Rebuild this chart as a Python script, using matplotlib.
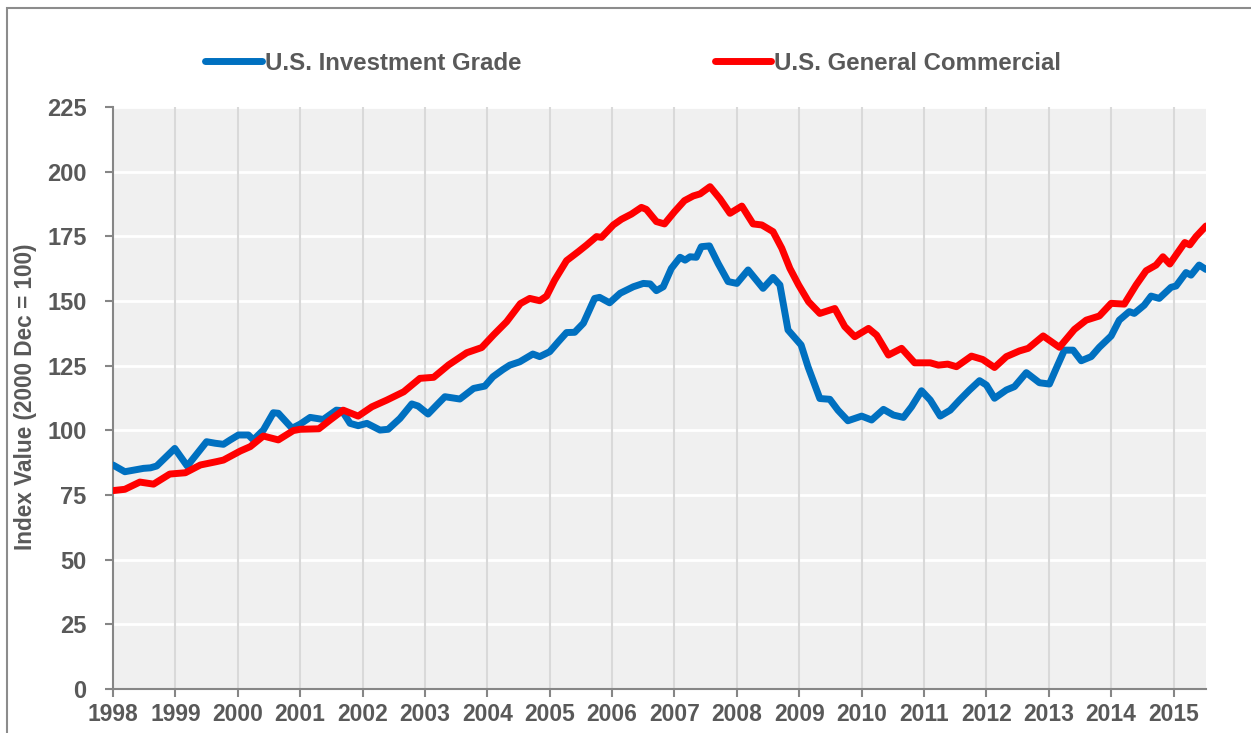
import matplotlib
matplotlib.use("Agg")
import matplotlib.pyplot as plt
from matplotlib.patches import Rectangle

plt.rcParams['font.family'] = ['Liberation Sans', 'DejaVu Sans']

# ---- data (decimal years, index values) ----
ig_years = [1998.00, 1998.19, 1998.49, 1998.60, 1998.70, 1998.99, 1999.19, 1999.50, 1999.64, 1999.77,
            1999.88, 2000.01, 2000.17, 2000.25, 2000.41, 2000.57, 2000.65, 2000.87, 2001.00, 2001.16,
            2001.37, 2001.58, 2001.67, 2001.80, 2001.93, 2002.07, 2002.28, 2002.41, 2002.60, 2002.79,
            2002.89, 2003.05, 2003.19, 2003.32, 2003.56, 2003.78, 2003.96, 2004.09, 2004.25, 2004.36,
            2004.52, 2004.73, 2004.84, 2005.00, 2005.14, 2005.27, 2005.40, 2005.54, 2005.72, 2005.80,
            2005.96, 2006.13, 2006.34, 2006.50, 2006.61, 2006.71, 2006.82, 2006.95, 2007.09, 2007.17,
            2007.25, 2007.35, 2007.43, 2007.56, 2007.70, 2007.86, 2008.00, 2008.18, 2008.42, 2008.58,
            2008.69, 2008.82, 2009.03, 2009.14, 2009.33, 2009.49, 2009.62, 2009.78, 2010.00, 2010.16,
            2010.35, 2010.51, 2010.67, 2010.80, 2010.96, 2011.10, 2011.26, 2011.42, 2011.57, 2011.73,
            2011.89, 2012.00, 2012.13, 2012.32, 2012.45, 2012.64, 2012.85, 2013.01, 2013.12, 2013.25,
            2013.39, 2013.52, 2013.68, 2013.81, 2014.00, 2014.13, 2014.29, 2014.37, 2014.53, 2014.64,
            2014.77, 2014.96, 2015.04, 2015.20, 2015.28, 2015.41, 2015.52]
ig_values = [86.6, 84.0, 85.3, 85.5, 86.2, 93.0, 86.2, 95.6, 95.0, 94.6,
             96.3, 98.2, 98.2, 96.3, 100.1, 106.8, 106.6, 100.8, 102.4, 105.0,
             104.2, 107.8, 107.6, 102.7, 101.8, 102.7, 100.1, 100.4, 104.6, 110.2,
             109.4, 106.3, 109.8, 113.0, 112.1, 116.2, 117.1, 120.7, 123.5, 125.2,
             126.5, 129.5, 128.5, 130.4, 134.3, 137.8, 137.9, 141.4, 151.0, 151.4,
             149.3, 153.0, 155.5, 156.8, 156.6, 154.0, 155.5, 162.6, 166.9, 165.8,
             167.1, 166.9, 171.0, 171.3, 164.5, 157.5, 156.8, 162.0, 154.9, 159.1,
             156.2, 138.8, 133.0, 124.6, 112.3, 112.0, 107.8, 103.7, 105.5, 104.0,
             108.1, 105.9, 105.0, 109.1, 115.3, 111.7, 105.5, 107.8, 111.7, 115.6,
             119.2, 117.5, 112.4, 115.6, 116.9, 122.3, 118.4, 117.9, 124.0, 131.0,
             131.0, 126.9, 128.5, 132.1, 136.5, 142.6, 145.9, 145.2, 148.4, 151.9,
             151.0, 155.3, 155.8, 161.0, 160.0, 163.9, 162.2]

gc_years = [1998.00, 1998.19, 1998.43, 1998.65, 1998.91, 1999.16, 1999.40, 1999.66, 1999.77, 2000.04,
            2000.20, 2000.41, 2000.65, 2000.89, 2001.00, 2001.30, 2001.48, 2001.69, 2001.93, 2002.15,
            2002.39, 2002.66, 2002.92, 2003.14, 2003.38, 2003.67, 2003.91, 2004.10, 2004.31, 2004.53,
            2004.68, 2004.84, 2004.95, 2005.08, 2005.27, 2005.46, 2005.59, 2005.75, 2005.83, 2006.02,
            2006.15, 2006.31, 2006.47, 2006.55, 2006.71, 2006.84, 2007.00, 2007.16, 2007.30, 2007.41,
            2007.57, 2007.73, 2007.89, 2008.08, 2008.26, 2008.40, 2008.58, 2008.72, 2008.85, 2008.99,
            2009.15, 2009.33, 2009.57, 2009.73, 2009.89, 2010.11, 2010.24, 2010.43, 2010.64, 2010.85,
            2011.10, 2011.23, 2011.38, 2011.52, 2011.76, 2011.94, 2012.13, 2012.32, 2012.53, 2012.67,
            2012.91, 2013.17, 2013.41, 2013.60, 2013.81, 2014.00, 2014.21, 2014.40, 2014.56, 2014.72,
            2014.83, 2014.94, 2015.04, 2015.18, 2015.26, 2015.36, 2015.52]
gc_values = [76.7, 77.2, 80.0, 79.2, 83.1, 83.6, 86.6, 87.9, 88.5, 92.0,
             93.7, 97.8, 96.3, 99.9, 100.4, 100.6, 104.0, 107.8, 105.5, 109.1,
             111.7, 114.9, 120.1, 120.5, 125.3, 130.0, 132.0, 136.9, 142.0, 149.0,
             151.0, 150.1, 151.9, 158.1, 165.6, 169.1, 171.6, 174.9, 174.6, 179.4,
             181.6, 183.6, 186.2, 185.4, 180.7, 179.8, 184.5, 188.8, 190.6, 191.4,
             194.2, 189.5, 183.9, 186.7, 179.8, 179.4, 176.8, 170.4, 162.6, 156.2,
             149.7, 145.2, 147.1, 140.1, 136.2, 139.4, 136.8, 129.1, 131.7, 126.1,
             126.1, 125.2, 125.6, 124.6, 128.7, 127.4, 124.3, 128.5, 130.7, 131.7,
             136.5, 132.1, 139.0, 142.6, 144.2, 149.1, 148.8, 156.2, 161.7, 163.9,
             167.1, 164.3, 167.8, 172.6, 171.7, 174.9, 179.0]

year_ticks = list(range(1998, 2016))
y_ticks = [0, 25, 50, 75, 100, 125, 150, 175, 200, 225]
series_names = ['U.S. Investment Grade', 'U.S. General Commercial']

BLUE = '#0070C0'
RED = '#FF0000'
TXT = '#595959'
AXC = '#868686'

W, H = 1251, 733
fig = plt.figure(figsize=(W / 100, H / 100), dpi=100)
fig.patch.set_facecolor('white')

# outer chart-area border (partially visible)
fig.add_artist(Rectangle((7 / W, -0.1), 1.2, (733 - 8) / H + 0.1, transform=fig.transFigure,
                         fill=False, edgecolor='#8C8C8C', linewidth=1.5))

ax = fig.add_axes([113 / W, (H - 689) / H, (1206 - 113) / W, (689 - 107) / H])
ax.set_facecolor('#F0F0F0')

ax.set_xlim(1998.0, 2015.52)
ax.set_ylim(0, 225)

ax.set_yticks(y_ticks)
ax.set_xticks(year_ticks)
ax.set_xticklabels([str(y) for y in year_ticks])

for s in ['top', 'right']:
    ax.spines[s].set_visible(False)
for s in ['left', 'bottom']:
    ax.spines[s].set_color(AXC)
    ax.spines[s].set_linewidth(1.5)

ax.tick_params(axis='both', direction='out', length=6, width=1.5, color=AXC,
               labelcolor=TXT, labelsize=16.5)
ax.tick_params(axis='y', pad=13, labelsize=17)
ax.tick_params(axis='x', pad=4)
for lab in ax.get_xticklabels() + ax.get_yticklabels():
    lab.set_fontweight('bold')

# grid: white horizontal, light gray vertical
for v in y_ticks[1:]:
    ax.axhline(v, color='white', linewidth=2, zorder=1)
for yr in year_ticks[1:]:
    ax.axvline(yr, color='#D9D9D9', linewidth=1.5, zorder=1)

l1, = ax.plot(ig_years, ig_values, color=BLUE, linewidth=5, solid_joinstyle='round',
              solid_capstyle='round', zorder=3)
l2, = ax.plot(gc_years, gc_values, color=RED, linewidth=5, solid_joinstyle='round',
              solid_capstyle='round', zorder=4)

ax.set_ylabel('Index Value (2000 Dec = 100)', fontsize=16.3, fontweight='bold', color=TXT)
ax.yaxis.set_label_coords(-0.0695, 0.503)

leg = fig.legend([l1, l2], series_names, loc='center left',
                 bbox_to_anchor=(205 / W, (H - 63) / H), ncol=2, frameon=False,
                 prop={'family': 'Liberation Sans', 'weight': 'bold', 'size': 17.3},
                 handlelength=2.36, handletextpad=0.12, columnspacing=8.05,
                 borderpad=0, borderaxespad=0)
for t in leg.get_texts():
    t.set_color(TXT)

fig.savefig('out.png', dpi=100, facecolor='white')
